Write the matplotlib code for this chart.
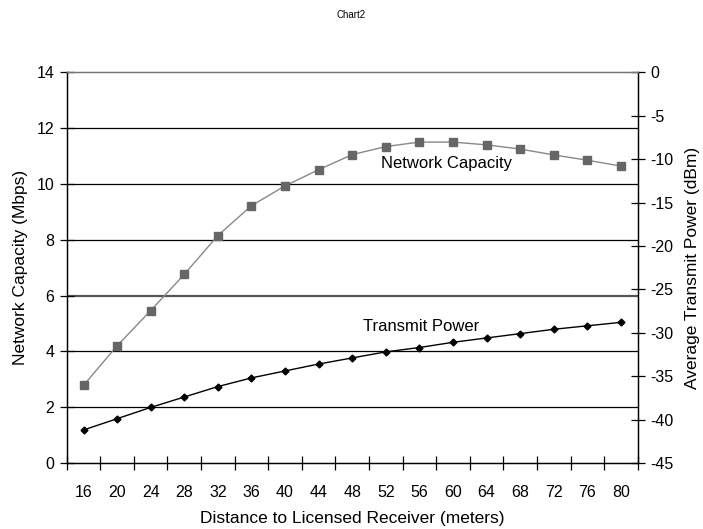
import numpy as np
import matplotlib
matplotlib.use("Agg")
import matplotlib.pyplot as plt

plt.rcParams['font.family'] = ['Liberation Sans', 'DejaVu Sans']
plt.rcParams['axes.unicode_minus'] = False

distance = [16, 20, 24, 28, 32, 36, 40, 44, 48, 52, 56, 60, 64, 68, 72, 76, 80]
capacity = [2.78, 4.20, 5.46, 6.76, 8.15, 9.22, 9.93, 10.51, 11.05, 11.34,
            11.50, 11.50, 11.40, 11.25, 11.04, 10.85, 10.64]
power = [-41.2, -39.9, -38.6, -37.4, -36.2, -35.2, -34.4, -33.6, -32.9, -32.2,
         -31.7, -31.1, -30.6, -30.1, -29.6, -29.2, -28.8]

x = np.arange(len(distance))

fig = plt.figure(figsize=(7.03, 5.29), dpi=100)
ax = fig.add_axes([0.0949, 0.1248, 0.8122, 0.7385])
ax2 = ax.twinx()

# gridlines (left axis)
for v in range(2, 14, 2):
    if v == 6:
        ax.axhline(v, color='#555555', lw=1.6, zorder=0)
    else:
        ax.axhline(v, color='black', lw=0.9, zorder=0)

ax.plot(x, capacity, color='#888888', lw=1.0, marker='s', ms=5.5,
        mfc='#666666', mec='#666666', zorder=3)
ax2.plot(x, power, color='black', lw=1.0, marker='D', ms=3.5,
         mfc='black', mec='black', zorder=3)

ax.set_xlim(-0.5, len(distance) - 0.5)
ax.set_ylim(0, 14)
ax2.set_ylim(-45, 0)

ax.set_xticks(np.arange(-0.5, len(distance), 1.0))
ax.set_xticklabels([])
ax.set_xticks(x, minor=True)
ax.set_xticklabels([str(d) for d in distance], minor=True, fontsize=11.5)
ax.tick_params(axis='x', which='major', direction='inout', length=10, width=0.9)
ax.tick_params(axis='x', which='minor', length=0, pad=16)

ax.set_yticks(range(0, 15, 2))
ax.tick_params(axis='y', direction='inout', length=10, width=0.9, labelsize=11.5, pad=4)
ax2.set_yticks(range(-45, 1, 5))
ax2.tick_params(axis='y', direction='inout', length=10, width=0.9, labelsize=11.5, pad=4)

for a in (ax, ax2):
    a.spines['top'].set_color('#777777')
    a.spines['top'].set_linewidth(0.9)
    for s in ('left', 'right', 'bottom'):
        a.spines[s].set_linewidth(0.9)

ax.set_xlabel('Distance to Licensed Receiver (meters)', fontsize=12.5, labelpad=8)
ax.set_ylabel('Network Capacity (Mbps)', fontsize=12.5, labelpad=6)
ax2.set_ylabel('Average Transmit Power (dBm)', fontsize=12.5, labelpad=8)

ax.text(10.82, 10.75, 'Network Capacity', fontsize=12, ha='center', va='center')
ax.text(10.06, 4.89, 'Transmit Power', fontsize=12, ha='center', va='center')

fig.text(0.5, 0.972, 'Chart2', fontsize=7, ha='center', va='center')

fig.savefig('out.png', dpi=100)
